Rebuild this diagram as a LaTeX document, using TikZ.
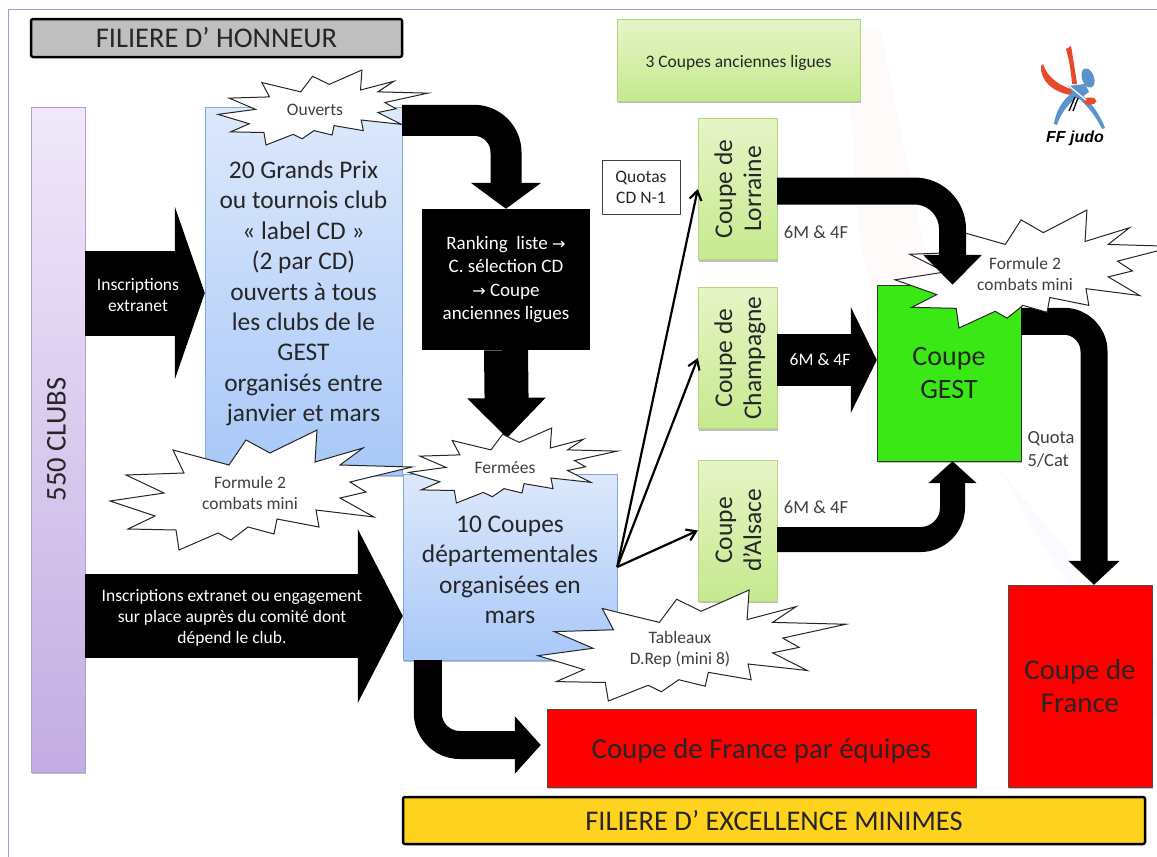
\documentclass[tikz,border=0pt]{standalone}
\usepackage{fontspec}
\setmainfont{Carlito}
\newfontfamily\arrowfont{DejaVu Sans}
\newfontfamily\logofont{Liberation Sans}
\usetikzlibrary{arrows.meta,shadows}

\definecolor{framecol}{HTML}{8FA6C4}
\definecolor{darktext}{HTML}{262626}
\definecolor{bursttext}{HTML}{404040}
\definecolor{logored}{HTML}{E8492A}
\definecolor{logoblue}{HTML}{5B94CC}
\definecolor{bluetop}{HTML}{DDE8FB}
\definecolor{bluebot}{HTML}{A8C8F8}
\definecolor{blueline}{HTML}{7FA8DC}
\definecolor{greentop}{HTML}{E6F4C6}
\definecolor{greenbot}{HTML}{C6E98F}
\definecolor{greenline}{HTML}{B5D67E}
\definecolor{purpletop}{HTML}{F0E8FA}
\definecolor{purplebot}{HTML}{C3ACE2}
\definecolor{purpleline}{HTML}{B49AD8}
\definecolor{gestgreen}{HTML}{39E815}
\definecolor{titleyellow}{HTML}{FFD21E}

\newcommand{\txtsize}[2]{\fontsize{#1}{#2}\selectfont}

\tikzset{
  softshadow/.style={drop shadow={shadow xshift=1pt,shadow yshift=-2pt,opacity=0.25,fill=black}},
  plainbox/.style={inner sep=0pt,align=center,text=darktext},
  titlebox/.style={draw=black,line width=2.5pt,plainbox,rounded corners=2pt,minimum width=#1,font=\txtsize{28.5}{34}},
  bluebox/.style={plainbox,draw=blueline,top color=bluetop,bottom color=bluebot,softshadow,font=\txtsize{25.4}{30.4}},
  greenbox/.style={plainbox,draw=greenline,top color=greentop,bottom color=greenbot,softshadow},
  redbox/.style={plainbox,draw=black!70,fill=red,softshadow,font=\txtsize{28.8}{33}},
  burstline/.style={draw=black!85,line width=1pt,fill=white,line join=miter,miter limit=20},
  bursttxt/.style={inner sep=0pt,align=center,text=bursttext,font=\txtsize{17.5}{21}},
  burstshape/.pic={
    \draw[burstline] (-88,-40) -- (-77,-17) -- (-135,-15) -- (-97,3) -- (-151,11) -- (-106,26)
      -- (-133,39) -- (-85,40) -- (-82,60) -- (-43,43) -- (-30,50) -- (-13,37) -- (13,44)
      -- (16,29) -- (58,37) -- (55,20) -- (113,27) -- (79,8) -- (105,2) -- (89,-8) -- (151,-23)
      -- (79,-25) -- (102,-42) -- (54,-28) -- (56,-60) -- (9,-37) -- (-15,-50) -- (-32,-25) -- cycle;
  }
}

\begin{document}
\begin{tikzpicture}[x=1pt,y=-1pt,line join=round]
  \useasboundingbox (0,0) rectangle (1157,857);
  \clip (0,0) rectangle (1157,857);
  \fill[white] (0,0) rectangle (1157,857);

  % faint marks behind everything
  \fill[red!2!white] (845,28) -- (880,28) -- (925,250) -- (985,430) -- (900,420) -- (860,240) -- cycle;
  \fill[blue!2!white] (1000,470) -- (1157,660) -- (1157,720) -- (1040,540) -- cycle;
  \draw[framecol,line width=1pt] (1157,9) -- (8,9) -- (8,857);

  % Titles
  \node[titlebox=371pt,fill=black!25,minimum height=38pt] (honneur) at (216.5,38) {FILIERE D’ HONNEUR};
  \node[titlebox=742pt,fill=titleyellow,minimum height=47pt] (excellence) at (774,820.5)
    {FILIERE D’ EXCELLENCE MINIMES};

  % Boxes
  \node[plainbox,draw=purpleline,top color=purpletop,bottom color=purplebot,softshadow,
    minimum width=54pt,minimum height=665pt] (clubs) at (58,439.5)
    {\rotatebox{90}{\txtsize{28.6}{34}550 CLUBS}\hspace{3pt}};
  \node[bluebox,minimum width=197pt,minimum height=368pt] (grandsprix) at (303.5,291)
    {\mbox{}\\[-8pt]20 Grands Prix\\ou tournois club\\« label CD »\\(2 par CD)\\ouverts à tous\\les clubs de le\\GEST\\
    organisés entre\\janvier et mars};
  \node[bluebox,minimum width=214pt,minimum height=186pt] (dept) at (510,567)
    {\mbox{}\\[-8pt]10 Coupes\\départementales\\organisées en\\mars};
  \node[plainbox,fill=black,text=white,minimum width=168pt,minimum height=141pt,font=\txtsize{19}{23.5}] (ranking) at (506,279.5)
    {Ranking~~liste {\arrowfont\fontsize{16}{16}\selectfont→}\\
     C. sélection CD\\
     {\arrowfont\fontsize{16}{16}\selectfont→} Coupe\\
     anciennes ligues};
  \node[greenbox,minimum width=243pt,minimum height=82pt,font=\txtsize{17.5}{21},text height=16pt,text depth=1pt] (anciennes) at (738.5,60)
    {3 Coupes anciennes ligues};
  \foreach \name/\ypos/\linea/\lineb in {lorraine/189/Coupe de/Lorraine,
      champagne/358/Coupe de/Champagne,alsace/530.5/Coupe/d’Alsace} {
    \node[greenbox,minimum width=79pt,minimum height=141pt] (\name) at (737.5,\ypos)
      {\hspace{6pt}\rotatebox{90}{\txtsize{25.5}{30}\begin{tabular}{@{}c@{}}\linea\\[-1pt]\lineb\end{tabular}}};
  }
  \node[plainbox,draw=black!75,fill=white,line width=1pt,minimum width=78pt,minimum height=54pt,font=\txtsize{17.5}{21}] (quotas) at (641,187)
    {Quotas\\CD N-1};
  \node[plainbox,draw=black!80,fill=gestgreen,minimum width=144pt,minimum height=176pt,
    softshadow,font=\txtsize{28}{33}] (gest) at (949,373) {Coupe\\GEST};
  \node[redbox,minimum width=429pt,minimum height=78pt,text height=24pt,text depth=4pt] (equipes) at (761.5,748) {Coupe de France par équipes};
  \node[redbox,minimum width=144pt,minimum height=202pt] (france) at (1080,686) {Coupe de\\France};

  % Thick straight arrows with their text
  \coordinate (insctop) at (138,295);
  \coordinate (inscbot) at (232,617.5);
  \coordinate (champarrow) at (820,360);
  \draw[line width=85pt,-{Triangle[length=30pt,width=172pt]}] (clubs.east |- 0,293) -- (grandsprix.west |- 0,293);
  \draw[line width=84pt,-{Triangle[length=45pt,width=172pt]}] (clubs.east |- 0,616) -- (dept.west |- 0,616);
  \draw[line width=52pt,-{Triangle[length=26pt,width=105pt]}] (champagne.east |- champarrow) -- (gest.west |- champarrow);
  \node[bursttxt,text=white] (insctxt) at (insctop) {Inscriptions\\extranet};
  \node[bursttxt,text=white] (inscbottxt) at (inscbot)
    {Inscriptions extranet ou engagement\\sur place auprès du comité dont\\dépend le club.};
  \node[bursttxt,text=white] (champtxt) at (champarrow) {6M \& 4F};

  % Thick bent arrows below the bursts
  \coordinate (fermeestip) at (507,438);
  \draw[line width=44pt,-{Triangle[length=40pt,width=76pt]}] (ranking.south) -- (fermeestip);
  \draw[line width=31pt,rounded corners=32pt,-{Triangle[length=26pt,width=69pt]}]
    ([yshift=-13.5pt]grandsprix.north east) -| (ranking.north);
  \draw[line width=28pt,rounded corners=32pt,-{Triangle[length=26pt,width=56pt]}]
    ([xshift=25pt]dept.south west) |- ([xshift=-6pt,yshift=3pt]equipes.west);
  \draw[line width=27pt,rounded corners=30pt,-{Triangle[length=24pt,width=50pt]}]
    ([yshift=-36.5pt]gest.north east) -| ([xshift=14pt]france.north);

  % Thin arrows
  \foreach \name in {lorraine,champagne,alsace} {
    \draw[line width=2.2pt,-{Straight Barb[length=9pt,width=12pt]}] (dept.east) -- (\name.west);
  }

  % Bursts
  \pic at (323,107.5) [xscale=0.695,yscale=0.625] {burstshape};
  \pic at (261,490) {burstshape};
  \pic at (513,465.5) [xscale=0.69,yscale=0.625] {burstshape};
  \pic at (692,645.5) [xscale=1.02,yscale=0.925] {burstshape};
  \pic at (1035,269) [xscale=0.927,yscale=0.983] {burstshape};
  \node[bursttxt] (ouverts) at (315,110) {Ouverts};
  \node[bursttxt] (formuleleft) at (250,493) {Formule 2\\combats mini};
  \node[bursttxt] (fermees) at (505,468) {Fermées};
  \node[bursttxt] (tableaux) at (680,649) {Tableaux\\D.Rep (mini 8)};
  \node[bursttxt] (formuleright) at (1025,274) {Formule 2\\combats mini};

  % Arrows into the top and bottom of the GEST box
  \draw[line width=27pt,rounded corners=38pt,-{Triangle[length=30pt,width=57pt]}]
    ([yshift=-2pt]lorraine.east) -| ([xshift=3.5pt]gest.north);
  \draw[line width=25pt,rounded corners=32pt,-{Triangle[length=22pt,width=47pt]}]
    ([yshift=-9pt]alsace.east) -| ([xshift=3.5pt]gest.south);

  % Loose labels
  \node[bursttxt,font=\txtsize{18.5}{23}] (sixa) at (816,232) {6M \& 4F};
  \node[bursttxt,font=\txtsize{18.5}{23}] (sixb) at (816,507) {6M \& 4F};
  \node[bursttxt,align=left,font=\txtsize{18.5}{23}] (quota) at (1051,449) {Quota\\5/Cat};

  % Logo
  \fill[logored] (1066,49) -- (1071,46) .. controls (1073,58) and (1075,70) .. (1077,84) -- (1072,84)
    .. controls (1071,70) and (1069,60) .. cycle;
  \fill[logored] (1043,64) .. controls (1047,76) and (1056,84) .. (1073,90) -- (1071,95)
    .. controls (1052,92) and (1040,80) .. (1041,66) -- cycle;
  \fill[logoblue,rotate around={20:(1088,78)}] (1088,78) ellipse (6 and 10);
  \fill[logoblue] (1068,86) -- (1085,84) -- (1089,92) -- (1078,100) -- cycle;
  \fill[logoblue] (1054,124) .. controls (1056,108) and (1066,96) .. (1078,88) -- (1081,94)
    .. controls (1070,102) and (1061,112) .. (1057,125) -- cycle;
  \fill[logoblue] (1075,95) -- (1080,93) .. controls (1092,103) and (1100,115) .. (1105,128) -- (1102,129)
    .. controls (1096,116) and (1086,104) .. cycle;
  \fill[logored] (1090,101) ellipse (6.5 and 3.5);
  \draw[white,line width=1.2pt] (1069,86) -- (1086,100);
  \draw[black,line width=1.3pt] (1075,97) -- (1069,111) (1078,98) -- (1073,111);
  \node[inner sep=0pt,text=black,font=\logofont\bfseries\itshape\txtsize{16}{16}] (logotext) at (1075,138) {FF judo};
\end{tikzpicture}
\end{document}
